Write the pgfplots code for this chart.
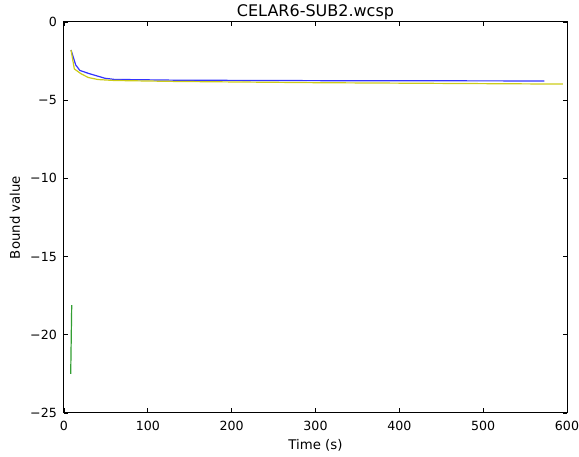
\documentclass[border=0pt]{standalone}
\usepackage{fontspec}
\setmainfont{DejaVu Sans}
\usepackage{pgfplots}
\pgfplotsset{compat=1.18}
\begin{document}
\begin{tikzpicture}[x=1pt,y=1pt]
\begin{axis}[
  at={(0,0)}, anchor=south west,
  scale only axis, width=503pt, height=391pt,
  xmin=0, xmax=600, ymin=-25, ymax=0,
  xtick={0,100,200,300,400,500,600},
  ytick={-25,-20,-15,-10,-5,0},
  yticklabels={−25,−20,−15,−10,−5,0},
  /pgf/number format/assume math mode=true,
  tick align=inside, major tick length=4.5pt,
  xtick pos=both, ytick pos=both,
  ticklabel style={font=\fontsize{12.6}{14}\selectfont, inner sep=0pt},
  xticklabel style={anchor=north, yshift=-8pt},
  yticklabel style={anchor=east, xshift=-7pt},
  label style={font=\fontsize{13.3}{15}\selectfont, inner sep=0pt},
  xlabel style={at={(rel axis cs:0.5,0)}, anchor=base, yshift=-37pt},
  ylabel style={at={(rel axis cs:0,0.5)}, anchor=base, yshift=44pt},
  title style={font=\fontsize{16}{18}\selectfont, inner sep=0pt, at={(rel axis cs:0.5,1)}, anchor=base, yshift=-1pt},
  title={CELAR6-SUB2.wcsp},
  xlabel={Time (s)}, ylabel={Bound value},
  axis line style={line width=1pt},
  every tick/.style={black, line width=0.7pt},
]
\addplot[color={rgb,1:red,0.2;green,0.2;blue,1}, line width=1.2pt] coordinates {(8.4,-1.79)(14,-2.75)(19,-3.1)(30,-3.3)(49,-3.6)(60,-3.67)(132,-3.72)(300,-3.75)(573,-3.77)};
\addplot[color={rgb,1:red,0.8;green,0.8;blue,0.1}, line width=1.2pt] coordinates {(8.4,-1.79)(12.3,-3.0)(20,-3.3)(29,-3.55)(40.6,-3.68)(60,-3.74)(132,-3.8)(300,-3.88)(595,-3.97)};
\addplot[color={rgb,1:red,0.2;green,0.62;blue,0.2}, line width=1.2pt] coordinates {(9.2,-18.1)(8.0,-22.5)};
\end{axis}
\pgfresetboundingbox
\path (-64pt,-44pt) rectangle (515pt,413pt);
\end{tikzpicture}
\end{document}
